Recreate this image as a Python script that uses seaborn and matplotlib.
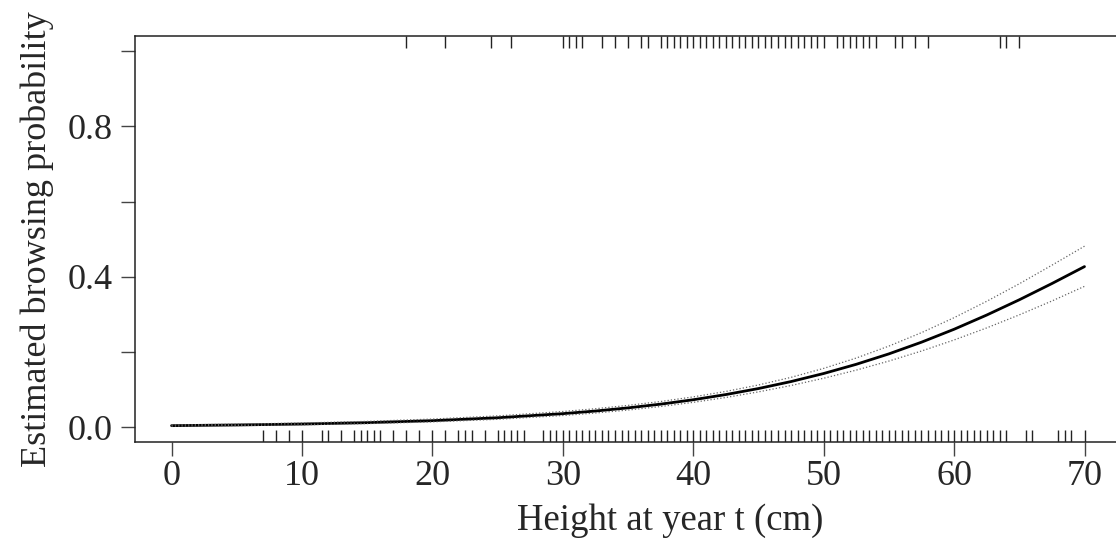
import numpy as np
import pandas as pd
import matplotlib
matplotlib.use("Agg")
import matplotlib.pyplot as plt
import seaborn as sns

# fitted curve
height_cm = [0, 5, 10, 15, 20, 25, 30, 32.5, 35, 37.5, 40, 42.5, 45, 47.5, 50,
             52.5, 55, 57.5, 60, 62.5, 65, 67.5, 70]
prob_fit = [0.0039, 0.0057, 0.0082, 0.0119, 0.0172, 0.0249, 0.0358, 0.0428,
            0.0512, 0.0611, 0.0728, 0.0866, 0.1026, 0.1212, 0.1426, 0.1671,
            0.1948, 0.2259, 0.2603, 0.2981, 0.3387, 0.3819, 0.4270]
prob_lower = [0.0027, 0.0041, 0.0062, 0.0093, 0.0139, 0.0208, 0.0309, 0.0375,
              0.0454, 0.0548, 0.0659, 0.0788, 0.0937, 0.1107, 0.1300, 0.1516,
              0.1757, 0.2024, 0.2318, 0.2639, 0.2986, 0.3355, 0.3745]
prob_upper = [0.0056, 0.0078, 0.0110, 0.0153, 0.0214, 0.0298, 0.0415, 0.0489,
              0.0578, 0.0681, 0.0804, 0.0949, 0.1121, 0.1324, 0.1562, 0.1838,
              0.2155, 0.2513, 0.2911, 0.3347, 0.3813, 0.4307, 0.4813]

# observed heights: not browsed (bottom rug) and browsed (top rug)
rug_not_browsed = [7, 8, 9, 10, 11.5, 12, 13, 14, 14.5, 15, 15.5, 16, 17, 18, 19,
                   20, 21, 22, 22.5, 23, 24, 25, 25.5, 26, 26.5, 27,
                   28.5, 29, 29.5, 30, 30.5, 31, 31.5, 32, 32.5, 33, 33.5, 34,
                   34.5, 35, 35.5, 36, 36.5, 37, 37.5, 38, 38.5, 39, 39.5, 40,
                   40.5, 41, 41.5, 42, 42.5, 43, 43.5, 44, 44.5, 45, 45.5, 46,
                   46.5, 47, 47.5, 48, 48.5, 49, 49.5, 50, 50.5, 51, 51.5, 52,
                   52.5, 53, 53.5, 54, 54.5, 55, 55.5, 56, 56.5, 57, 57.5, 58,
                   58.5, 59, 59.5, 60, 60.5, 61, 61.5, 62, 62.5, 63, 63.5, 64,
                   65.5, 66, 68, 68.5, 69, 70]
rug_browsed = [18, 21, 24.5, 26, 30, 30.5, 31, 31.5, 33, 34, 35, 36, 36.5, 37.5,
               38, 38.5, 39, 39.5, 40, 40.5, 41, 41.5, 42, 42.5, 43, 43.5, 44,
               44.5, 45, 45.5, 46, 46.5, 47, 47.5, 48, 48.5, 49, 49.5, 50, 51,
               51.5, 52, 52.5, 53, 53.5, 54, 55.5, 56, 57, 58, 63.5, 64, 65]

df = pd.DataFrame({"height": height_cm, "fit": prob_fit,
                   "lower": prob_lower, "upper": prob_upper})

sns.set_style("ticks")
plt.rcParams["font.family"] = ["Liberation Serif", "DejaVu Serif"]

fig = plt.figure(figsize=(11.16, 5.52), dpi=100)
ax = fig.add_axes([0.121, 0.199, 0.8835, 0.7355])

sns.lineplot(data=df, x="height", y="fit", ax=ax, color="black", lw=2.0)
sns.lineplot(data=df, x="height", y="lower", ax=ax, color="#666666", lw=0.9, ls=":")
sns.lineplot(data=df, x="height", y="upper", ax=ax, color="#666666", lw=0.9, ls=":")

sns.rugplot(x=rug_not_browsed, ax=ax, height=0.03, color="#222222", lw=1.0,
            expand_margins=False)
ax.vlines(rug_browsed, 0.97, 1.0, transform=ax.get_xaxis_transform(),
          color="#222222", lw=1.0)

ax.set_xlim(-2.8, 72.8)
ax.set_ylim(-0.04, 1.04)
ax.set_xticks(range(0, 71, 10))
ax.set_yticks([0, 0.2, 0.4, 0.6, 0.8, 1.0])
ax.set_yticklabels(["0.0", "", "0.4", "", "0.8", ""])

for s in ax.spines.values():
    s.set_visible(True)
    s.set_linewidth(1.1)
    s.set_color("#222222")
ax.tick_params(direction="out", length=10, width=1.0, color="#444444",
               labelsize=26, pad=6)
ax.tick_params(axis="x", pad=3)

ax.set_xlabel("Height at year t (cm)", fontsize=26.5)
ax.xaxis.set_label_coords(0.543, -0.15)
ax.set_ylabel("Estimated browsing probability", fontsize=26, labelpad=10)

fig.savefig("out.png", dpi=100)
